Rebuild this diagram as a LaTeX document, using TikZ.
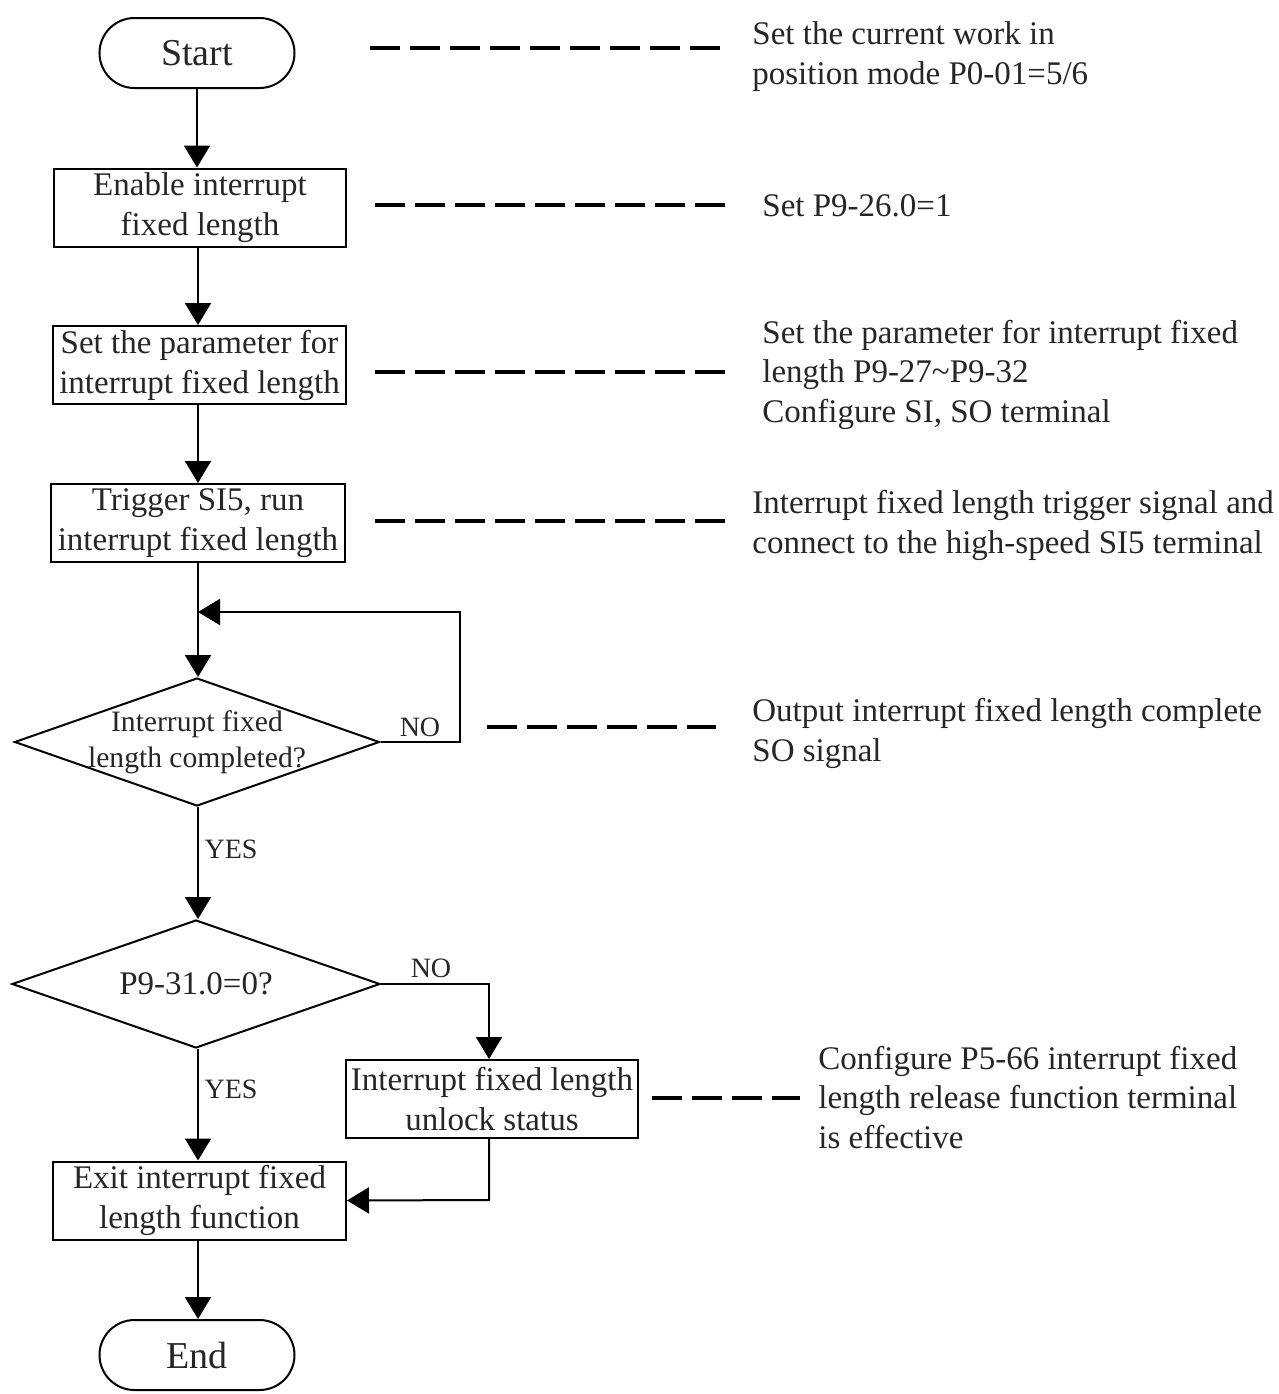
\documentclass[tikz,border=0pt]{standalone}
\usepackage{fontspec}
\setmainfont{Liberation Serif}
\usetikzlibrary{arrows.meta,shapes.geometric}
\begin{document}
\begin{tikzpicture}[x=0.5pt,y=-0.5pt,
  every node/.style={inner sep=0pt, text=black!85},
  box/.style={draw, line width=1pt, rectangle, minimum height=39pt, align=center,
     font=\fontsize{16.5pt}{20pt}\selectfont},
  term/.style={draw, line width=1pt, rectangle, rounded corners=17.5pt, minimum width=97.5pt,
     minimum height=35pt, font=\fontsize{19pt}{22pt}\selectfont},
  dec/.style={draw, line width=1pt, diamond, minimum height=64pt},
  arr/.style={line width=1pt, -{Triangle[width=13pt,length=11pt]}},
  dashline/.style={line width=1.8pt, dash pattern=on 15pt off 5pt},
  lbl/.style={font=\fontsize{14pt}{16pt}\selectfont},
  note/.style={anchor=base west, align=left, font=\fontsize{16.5pt}{19.7pt}\selectfont}
]
\useasboundingbox (0,0) rectangle (1279,1394);

% flow nodes
\node[term] (start) at (197,53) {Start};
\node[box, minimum width=146pt] (enable) at (200,207.5) {Enable interrupt\\fixed length};
\node[box, minimum width=146.5pt] (param) at (199.5,365) {Set the parameter for\\interrupt fixed length};
\node[box, minimum width=147pt] (trig) at (198,523) {Trigger SI5, run\\interrupt fixed length};
\node[dec, minimum width=182.5pt] (d1) at (197,742) {};
\node[align=center, font=\fontsize{14.8pt}{18pt}\selectfont] (d1t) at (d1.center) {Interrupt fixed\\length completed?};
\node[dec, minimum width=184pt] (d2) at (196,984) {};
\node[font=\fontsize{16.5pt}{20pt}\selectfont] (d2t) at (d2.center) {P9-31.0=0?};
\node[box, minimum width=146pt] (unlock) at (492,1099) {Interrupt fixed length\\unlock status};
\node[box, minimum width=146.5pt] (exit) at (199.5,1200.5) {Exit interrupt fixed\\length function};
\node[term] (end) at (197,1355) {End};

% connectors
\draw[arr] (start.south) -- (start.south |- enable.north);
\draw[arr] (enable.south -| 198,0) -- (198,0 |- param.north);
\draw[arr] (param.south -| 198,0) -- (198,0 |- trig.north);
\coordinate (j1) at (198,612);
\draw[arr] (trig.south -| j1) -- (j1 |- d1.north);
\draw[arr] (d1.east) -- (460,742) -- (460,612) -- (j1);
\node[lbl] (no1) at (420,727) {NO};
\draw[arr] (d1.south -| j1) -- (j1 |- d2.north);
\node[lbl] (yes1) at (231,849) {YES};
\draw[arr] (d2.east) -- (489,984) -- (489,0 |- unlock.north);
\node[lbl] (no2) at (431,968) {NO};
\draw[arr] (d2.south -| j1) -- (j1 |- exit.north);
\node[lbl] (yes2) at (231,1089) {YES};
\draw[arr] (489,0 |- unlock.south) -- (489,1200) -- (exit.east);
\draw[arr] (exit.south -| j1) -- (j1 |- end.north);

% notes (anchored at the baseline of the last line)
\node[note] (t1) at (752,84) {Set the current work in\\position mode P0-01=5/6};
\node[note] (t2) at (762,216) {Set P9-26.0=1};
\node[note] (t3) at (762,422) {Set the parameter for interrupt fixed\\length P9-27\textasciitilde P9-32\\Configure SI, SO terminal};
\node[note] (t4) at (752,553) {Interrupt fixed length trigger signal and\\connect to the high-speed SI5 terminal};
\node[note] (t5) at (752,761) {Output interrupt fixed length complete\\SO signal};
\node[note] (t6) at (818,1148) {Configure P5-66 interrupt fixed\\length release function terminal\\is effective};

% dashed leaders
\coordinate (a1) at (370,48);  \coordinate (b1) at (722,48);
\coordinate (a2) at (375,205); \coordinate (b2) at (727,205);
\coordinate (a3) at (375,372); \coordinate (b3) at (727,372);
\coordinate (a4) at (375,521); \coordinate (b4) at (727,521);
\coordinate (a5) at (487,727); \coordinate (b5) at (716,727);
\coordinate (a6) at (652,1098); \coordinate (b6) at (800,1098);
\draw[dashline] (a1) -- (b1);
\draw[dashline] (a2) -- (b2);
\draw[dashline] (a3) -- (b3);
\draw[dashline] (a4) -- (b4);
\draw[dashline] (a5) -- (b5);
\draw[dashline] (a6) -- (b6);
\end{tikzpicture}
\end{document}
